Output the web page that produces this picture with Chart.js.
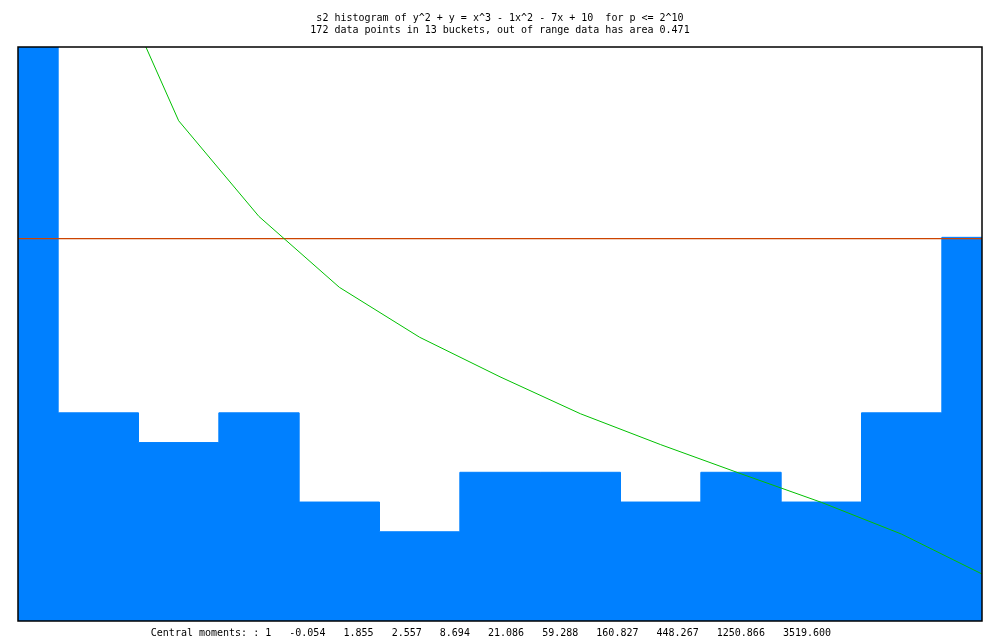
<!DOCTYPE html>
<html>
<head>
<meta charset="utf-8">
<script src="https://cdn.jsdelivr.net/npm/chart.js@4/dist/chart.umd.min.js"></script>
<style>
  html, body { margin: 0; padding: 0; background: #fff; }
  #wrap { width: 1000px; height: 640px; }
</style>
</head>
<body>
<div id="wrap"><canvas id="chart" width="1000" height="640"></canvas></div>
<script>
// bucket edges (in bucket units), first and last bucket are half width
var bucketEdges = [0, 0.5, 1.5, 2.5, 3.5, 4.5, 5.5, 6.5, 7.5, 8.5, 9.5, 10.5, 11.5, 12];
var bucketHeights = [19.3, 7, 6, 7, 4, 3, 5, 5, 4, 5, 4, 7, 12.9];
// expected density curve, sampled at bucket centres
var curveX = [1, 2, 3, 4, 5, 6, 7, 8, 9, 10, 11, 12];
var curveY = [22.9, 16.82, 13.6, 11.22, 9.54, 8.21, 6.97, 5.93, 4.95, 3.99, 2.92, 1.58];
var refLevel = 12.86;
var yMax = 19.3;

var titleLines = [
    "s2 histogram of y^2 + y = x^3 - 1x^2 - 7x + 10  for p <= 2^10",
    "172 data points in 13 buckets, out of range data has area 0.471"
];
var momentsText = "Central moments: : 1   -0.054   1.855   2.557   8.694   21.086   59.288   160.827   448.267   1250.866   3519.600   ";

var histPoints = bucketEdges.map(function(x, i) {
    return { x: x, y: bucketHeights[Math.min(i, bucketHeights.length - 1)] };
});
var curvePoints = curveX.map(function(x, i) { return { x: x, y: curveY[i] }; });
var refPoints = [
    { x: bucketEdges[0], y: refLevel },
    { x: bucketEdges[bucketEdges.length - 1], y: refLevel }
];

var frame = {
    id: 'frame',
    afterDraw: function(chart) {
        var a = chart.chartArea, c = chart.ctx;
        c.save();
        c.strokeStyle = '#000';
        c.lineWidth = 1.5;
        c.strokeRect(a.left, a.top, a.right - a.left, a.bottom - a.top);
        c.restore();
    }
};

var mono = "'DejaVu Sans Mono', 'Liberation Mono', monospace";

var ctx = document.getElementById('chart').getContext('2d');
var chart = new Chart(ctx, {
    type: 'line',
    data: {
        datasets: [{
            data: curvePoints,
            borderColor: '#00c000',
            borderWidth: 1,
            pointRadius: 0,
            tension: 0,
            order: 1
        }, {
            data: refPoints,
            borderColor: '#cc4400',
            borderWidth: 1.2,
            pointRadius: 0,
            order: 2
        }, {
            data: histPoints,
            stepped: 'before',
            fill: 'origin',
            backgroundColor: '#0080ff',
            borderColor: '#0080ff',
            borderWidth: 1,
            pointRadius: 0,
            order: 3
        }]
    },
    options: {
        responsive: false,
        animation: false,
        events: [],
        layout: { padding: { left: 18, right: 18 } },
        scales: {
            x: { type: 'linear', min: 0, max: 12, display: false },
            y: { type: 'linear', min: 0, max: yMax, display: false }
        },
        plugins: {
            legend: { display: false },
            tooltip: { enabled: false },
            title: {
                display: true,
                text: titleLines,
                color: '#000',
                font: { family: mono, size: 10, weight: 'normal', lineHeight: 1.2 },
                padding: { top: 12, bottom: 11 }
            },
            subtitle: {
                display: true,
                position: 'bottom',
                text: momentsText,
                color: '#000',
                font: { family: mono, size: 10, weight: 'normal', lineHeight: 1.2 },
                padding: { top: 6, bottom: 1 }
            }
        }
    },
    plugins: [frame]
});
</script>
</body>
</html>
